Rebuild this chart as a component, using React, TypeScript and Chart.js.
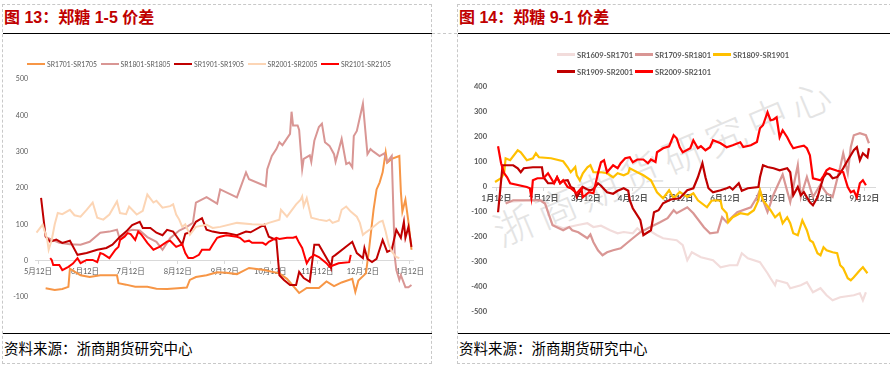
import React, { useEffect, useRef } from 'react';
import { Chart, registerables } from 'chart.js';
Chart.register(...registerables);

// ---------- Left chart: 郑糖 1-5 价差 (x = days after 5月12日) ----------
const leftTickDays = [0, 31, 61, 92, 123, 153, 184, 214, 245];
const leftTickLabels = ['5月12日', '6月12日', '7月12日', '8月12日', '9月12日', '10月12日', '11月12日', '12月12日', '1月12日'];
const leftNames = ['SR1701-SR1705', 'SR1801-SR1805', 'SR1901-SR1905', 'SR2001-SR2005', 'SR2101-SR2105'];
const leftColors = ['#f79646', '#d99694', '#c00000', '#fcd5b5', '#ff0000'];

const L_1701_1705 = [[5,-76],[11,-81],[16,-78],[20,-72],[21,-22],[24,-30],[28,-40],[34,-45],[41,-40],[52,-40],[53,-62],[58,-66],[64,-72],[72,-72],[78,-77],[85,-78],[92,-76],[98,-74],[100,-53],[104,-45],[111,-40],[118,-32],[124,-33],[131,-37],[139,-20],[148,-25],[159,-35],[164,-50],[172,-89],[177,-75],[185,-75],[190,-57],[195,-70],[200,-60],[207,-50],[209,-86],[211,-55],[216,-35],[218,30],[221,140],[223,196],[225,215],[227,243],[229,298],[230,270],[233,280],[238,288],[239,190],[240,135],[242,168],[244,107],[246,30]];
const L_1801_1805 = [[6,63],[14,49],[21,45],[28,44],[34,52],[41,77],[47,80],[52,85],[54,57],[58,80],[62,85],[67,83],[72,65],[78,52],[82,30],[87,62],[93,83],[98,93],[102,104],[104,160],[111,175],[118,157],[120,196],[131,174],[137,243],[139,224],[150,205],[151,252],[154,288],[157,307],[159,326],[161,318],[166,349],[167,410],[168,372],[171,372],[172,360],[174,252],[175,280],[179,290],[180,272],[182,330],[185,368],[187,377],[189,326],[192,316],[195,293],[196,272],[200,335],[203,266],[205,270],[207,257],[208,343],[210,357],[214,432],[217,293],[219,307],[221,300],[225,288],[228,295],[230,271],[233,288],[235,10],[236,-25],[238,-53],[239,-40],[242,-73],[244,-73],[246,-67]];
const L_1901_1905 = [[2,173],[5,66],[8,52],[12,58],[16,49],[21,55],[26,16],[32,21],[39,30],[45,35],[49,44],[54,66],[58,80],[62,98],[67,107],[69,90],[74,90],[78,77],[82,70],[85,85],[89,80],[91,68],[95,44],[97,74],[100,78],[104,107],[108,117],[111,85],[115,80],[120,76],[124,76],[131,70],[137,80],[140,78],[149,99],[152,66],[157,57],[159,-40],[162,-53],[166,-67],[170,-67],[172,-31],[175,-48],[179,-58],[182,44],[185,44],[192,-7],[193,-20],[194,10],[196,16],[207,52],[210,21],[214,7],[215,35],[217,5],[220,-4],[223,5],[227,57],[230,24],[233,30],[236,85],[239,63],[241,107],[242,63],[244,93],[246,38]];
const L_2001_2005 = [[-1,77],[3,99],[6,60],[7,30],[9,57],[11,100],[13,131],[16,128],[21,140],[24,125],[28,121],[32,140],[36,160],[39,118],[43,113],[47,127],[52,163],[54,131],[58,128],[60,149],[65,127],[69,137],[72,182],[76,160],[78,165],[82,146],[87,150],[89,155],[91,127],[93,113],[95,93],[97,100],[100,71],[104,93],[111,99],[115,90],[120,93],[131,104],[141,100],[149,99],[152,104],[159,113],[160,140],[164,121],[170,155],[173,168],[174,177],[175,150],[177,172],[180,118],[185,113],[190,109],[192,113],[194,104],[198,110],[200,140],[203,149],[206,135],[210,121],[212,104],[214,71],[216,78],[220,90],[225,107],[227,110],[229,80],[231,44],[233,25],[236,10],[238,7]];
const L_2101_2105 = [[8,7],[9,2],[10,-12],[14,-12],[16,-26],[20,-17],[23,-8],[26,7],[28,-7],[32,2],[36,2],[39,-4],[41,21],[43,18],[47,7],[51,30],[53,38],[54,57],[57,66],[59,76],[61,73],[64,57],[66,80],[68,72],[72,49],[76,30],[80,38],[85,52],[87,55],[91,38],[95,45],[97,21],[99,7],[102,7],[106,16],[108,30],[113,30],[115,44],[118,63],[120,66],[124,70],[131,66],[133,63],[136,52],[139,55],[141,49],[148,49],[150,44],[152,52],[157,63],[159,60],[164,63],[168,63],[170,66],[172,49],[174,35],[177,-7],[179,7],[182,16],[185,10],[190,-7],[192,-17],[195,-12],[198,-7],[205,-4],[206,16]];

// ---------- Right chart: 郑糖 9-1 价差 (x = days after 1月12日) ----------
const rightTickDays = [0, 31, 59, 90, 120, 151, 181, 212, 243];
const rightTickLabels = ['1月12日', '2月12日', '3月12日', '4月12日', '5月12日', '6月12日', '7月12日', '8月12日', '9月12日'];
const rightNames = ['SR1609-SR1701', 'SR1709-SR1801', 'SR1809-SR1901', 'SR1909-SR2001', 'SR2009-SR2101'];
const rightColors = ['#f2dcdb', '#d99694', '#ffc000', '#c00000', '#ff0000'];

const R_1609_1701 = [[6,-60],[20,-55],[29,-55],[32,-65],[37,-150],[44,-165],[53,-153],[60,-145],[64,-160],[69,-155],[75,-173],[80,-185],[84,-180],[90,-185],[93,-165],[97,-185],[102,-178],[106,-193],[110,-205],[119,-213],[123,-233],[126,-293],[129,-261],[135,-281],[143,-293],[148,-321],[154,-313],[159,-313],[162,-265],[166,-285],[174,-301],[179,-345],[181,-365],[184,-393],[185,-373],[192,-385],[194,-405],[201,-393],[205,-381],[209,-421],[214,-405],[218,-433],[222,-453],[227,-441],[236,-433],[240,-425],[242,-453],[244,-421]];
const R_1709_1801 = [[6,-66],[11,-53],[29,-53],[32,-66],[37,-153],[44,-173],[48,-160],[50,-173],[54,-181],[60,-205],[62,-190],[64,-221],[67,-253],[70,-273],[73,-261],[77,-253],[82,-245],[86,-225],[90,-205],[95,-181],[100,-165],[104,-153],[108,-141],[113,-125],[117,-93],[119,-105],[126,-81],[130,-105],[137,-161],[141,-185],[146,-181],[149,-121],[152,-141],[159,-101],[168,-81],[172,-41],[174,-13],[176,-53],[179,-100],[183,-30],[189,50],[194,-60],[199,87],[201,-40],[205,40],[209,-40],[214,10],[218,-25],[222,-40],[227,79],[229,135],[232,55],[234,159],[236,207],[240,215],[244,207],[246,175]];
const R_1809_1901 = [[-1,20],[3,35],[5,55],[6,115],[9,107],[14,147],[16,139],[20,107],[24,115],[26,135],[28,119],[36,115],[44,103],[47,79],[49,59],[52,80],[53,47],[55,27],[57,55],[60,79],[62,87],[64,59],[69,59],[73,55],[77,39],[80,55],[84,47],[87,55],[88,75],[93,59],[97,47],[102,27],[106,-21],[110,-45],[114,-13],[117,-45],[121,-20],[126,-40],[130,-25],[133,-53],[139,-81],[142,-55],[145,-53],[148,-55],[149,-85],[152,-105],[153,-141],[156,-121],[161,-105],[166,-110],[170,-93],[173,-53],[174,-13],[176,-53],[181,-93],[184,-121],[187,-105],[189,-145],[192,-121],[194,-145],[196,-185],[199,-193],[202,-133],[205,-173],[207,-213],[209,-221],[212,-265],[214,-273],[216,-241],[218,-253],[222,-261],[225,-265],[227,-313],[229,-325],[232,-365],[234,-373],[236,-361],[240,-333],[242,-321],[245,-345]];
const R_1909_2001 = [[1,-101],[4,87],[11,87],[14,75],[16,59],[18,75],[24,79],[30,79],[31,39],[34,15],[38,15],[40,39],[42,15],[44,25],[47,27],[49,0],[51,-5],[53,-41],[55,-21],[57,0],[60,-10],[62,-13],[64,-8],[67,15],[69,5],[73,-21],[77,-27],[80,-15],[84,-5],[87,-15],[88,-53],[90,-85],[95,-133],[97,-193],[102,-173],[104,-101],[107,-93],[110,-65],[115,-50],[121,-45],[126,-13],[130,-5],[133,39],[136,95],[138,39],[140,-5],[143,-21],[148,-13],[152,-5],[154,0],[156,-10],[160,15],[162,-15],[166,-5],[173,0],[174,39],[176,87],[179,80],[183,75],[187,67],[192,75],[194,59],[196,-33],[199,0],[201,-33],[203,-20],[205,-41],[207,-61],[209,-73],[212,-41],[214,0],[216,39],[218,55],[220,50],[222,35],[225,40],[227,55],[229,75],[232,107],[234,127],[236,147],[238,159],[240,107],[242,135],[245,119],[246,155]];
const R_2009_2101 = [[1,163],[3,95],[5,55],[7,39],[9,15],[20,0],[22,-5],[23,-41],[24,27],[27,35],[31,35],[34,55],[36,35],[38,15],[40,39],[42,15],[44,27],[47,0],[49,-5],[53,-25],[56,-5],[57,-41],[61,-21],[64,-25],[67,55],[69,99],[71,107],[73,59],[77,87],[80,75],[82,95],[85,115],[88,119],[90,99],[93,110],[97,110],[100,95],[102,110],[105,100],[106,139],[108,147],[110,155],[114,163],[117,207],[119,195],[121,159],[123,139],[128,155],[130,187],[133,155],[135,163],[138,147],[141,159],[143,187],[148,175],[152,159],[156,167],[161,179],[163,160],[168,167],[172,180],[174,235],[176,247],[179,299],[181,267],[183,270],[185,279],[187,199],[189,227],[192,199],[194,175],[196,155],[199,160],[203,165],[205,155],[207,127],[209,35],[214,27],[216,45],[218,67],[220,75],[225,65],[229,59],[232,0],[234,-21],[236,-15],[238,-41],[240,15],[242,27],[244,7]];

const leftSeries = [L_1701_1705, L_1801_1805, L_1901_1905, L_2001_2005, L_2101_2105];
const rightSeries = [R_1609_1701, R_1709_1801, R_1809_1901, R_1909_2001, R_2009_2101];

type ChartProps = {
  left: number; top: number; width: number; height: number;
  series: number[][][]; names: string[]; colors: string[];
  xMin: number; xMax: number; yMin: number; yMax: number;
  tickDays: number[]; tickLabels: string[];
  padding: { left: number; right: number; top: number; bottom: number };
  yAxisWidth: number; yTickPad: number; xTickPad: number;
  font: { family: string; size: number; weight: string };
  xFont: { family: string; size: number; weight: string };
  lineWidth: number;
};

function SpreadChart(p: ChartProps) {
  const ref = useRef<HTMLCanvasElement>(null);
  useEffect(() => {
    const n = p.series.length;
    const chart = new Chart(ref.current as HTMLCanvasElement, {
      type: 'line',
      data: {
        datasets: p.series.map((s, i) => ({
          label: p.names[i],
          data: s.map(([x, y]) => ({ x, y })),
          borderColor: p.colors[i],
          backgroundColor: p.colors[i],
          borderWidth: p.lineWidth,
          pointRadius: 0,
          tension: 0,
          order: n - i,
        })),
      },
      options: {
        animation: false,
        responsive: false,
        events: [],
        layout: { padding: p.padding },
        plugins: { legend: { display: false }, tooltip: { enabled: false } },
        scales: {
          x: {
            type: 'linear',
            position: { y: 0 } as any,
            min: p.xMin,
            max: p.xMax,
            afterBuildTicks: (scale: any) => {
              scale.ticks = p.tickDays.map((v) => ({ value: v }));
            },
            ticks: {
              autoSkip: false,
              maxRotation: 0,
              padding: p.xTickPad,
              color: '#595959',
              font: p.xFont as any,
              callback: (_v: any, i: number) => p.tickLabels[i],
            },
            grid: { display: true, drawOnChartArea: false, drawTicks: true, tickLength: 3, color: '#d9d9d9' },
            border: { display: true, color: '#d9d9d9', width: 1 },
          },
          y: {
            type: 'linear',
            min: p.yMin,
            max: p.yMax,
            afterFit: (scale: any) => { scale.width = p.yAxisWidth; },
            ticks: { stepSize: 100, padding: p.yTickPad, color: '#595959', font: p.font as any },
            grid: { display: false, drawTicks: false },
            border: { display: false },
          },
        },
      },
    });
    return () => chart.destroy();
  }, []);
  return (
    <canvas
      ref={ref}
      width={p.width}
      height={p.height}
      style={{ position: 'absolute', left: p.left, top: p.top, width: p.width, height: p.height, zIndex: 2 }}
    />
  );
}

function Legend(props: { names: string[]; colors: string[]; left: number; top: number; cols: number; colWidth: number; rowHeight: number; fontSize: number; bold: boolean }) {
  return (
    <div style={{ position: 'absolute', left: props.left, top: props.top, display: 'grid', gridTemplateColumns: `repeat(${props.cols}, ${props.colWidth}px)`, gridAutoRows: `${props.rowHeight}px`, zIndex: 3 }}>
      {props.names.map((nm, i) => (
        <div key={nm} style={{ display: 'flex', alignItems: 'center', whiteSpace: 'nowrap' }}>
          <div style={{ width: 18, height: 2.5, background: props.colors[i], marginRight: 2 }} />
          <span style={{ fontFamily: 'Lato, "Noto Sans"', fontSize: props.fontSize, fontWeight: props.bold ? 700 : 400, color: '#595959' }}>{nm}</span>
        </div>
      ))}
    </div>
  );
}

const titleStyle: React.CSSProperties = {
  position: 'absolute', top: 8, height: 20, lineHeight: '20px', fontSize: 16, fontWeight: 700,
  color: '#c00000', fontFamily: '"Liberation Sans", "Noto Sans CJK SC"', whiteSpace: 'nowrap',
};
const footStyle: React.CSSProperties = {
  position: 'absolute', top: 338, height: 20, lineHeight: '20px', fontSize: 14.5,
  color: '#000', fontFamily: '"Noto Sans CJK SC"', whiteSpace: 'nowrap',
};

export default function App() {
  const dash = '1px dashed #c8c8c8';
  return (
    <div style={{ position: 'absolute', left: 0, top: 0, width: 890, height: 366, background: '#fff', overflow: 'hidden' }}>
      {/* dashed frames */}
      <div style={{ position: 'absolute', left: 2, top: 4, width: 430, height: 360, borderLeft: dash, borderTop: dash, borderRight: dash, borderBottom: dash, boxSizing: 'border-box' }} />
      <div style={{ position: 'absolute', left: 457, top: 4, width: 440, height: 360, borderLeft: dash, borderTop: dash, borderBottom: dash, boxSizing: 'border-box' }} />
      <div style={{ position: 'absolute', left: 432, top: 33, width: 25, height: 0, borderTop: dash }} />

      {/* titles */}
      <div style={{ ...titleStyle, left: 4 }}>图 13：郑糖 1-5 价差</div>
      <div style={{ ...titleStyle, left: 459 }}>图 14：郑糖 9-1 价差</div>
      <div style={{ position: 'absolute', left: 3, top: 33, width: 429, height: 1, background: '#000' }} />
      <div style={{ position: 'absolute', left: 458, top: 33, width: 432, height: 1, background: '#000' }} />
      <div style={{ position: 'absolute', left: 3, top: 333, width: 429, height: 1, background: '#000' }} />
      <div style={{ position: 'absolute', left: 458, top: 333, width: 432, height: 1, background: '#000' }} />

      {/* watermark */}
      <div style={{ position: 'absolute', left: 664, top: 160, transform: 'translate(-50%, -50%) rotate(-23deg)', fontSize: 40, letterSpacing: 6, color: '#e4e4e4', fontFamily: '"Noto Sans CJK SC"', fontWeight: 300, whiteSpace: 'nowrap', zIndex: 1 }}>浙商期货研究中心</div>

      <SpreadChart
        left={3} top={34} width={429} height={299}
        series={leftSeries} names={leftNames} colors={leftColors}
        xMin={-2} xMax={247} yMin={-100} yMax={500}
        tickDays={leftTickDays} tickLabels={leftTickLabels}
        padding={{ left: 0, right: 19, top: 45, bottom: 36 }}
        yAxisWidth={32} yTickPad={7} xTickPad={3}
        font={{ family: 'Lato, "Noto Sans CJK SC"', size: 7, weight: 'normal' }}
        xFont={{ family: 'Lato, "Noto Sans CJK SC"', size: 7.5, weight: 'normal' }}
        lineWidth={2}
      />
      <SpreadChart
        left={458} top={34} width={432} height={299}
        series={rightSeries} names={rightNames} colors={rightColors}
        xMin={-3} xMax={250} yMin={-500} yMax={400}
        tickDays={rightTickDays} tickLabels={rightTickLabels}
        padding={{ left: 0, right: 15, top: 53, bottom: 21 }}
        yAxisWidth={34} yTickPad={5} xTickPad={4}
        font={{ family: 'Lato, "Noto Sans CJK SC"', size: 7.5, weight: 'bold' }}
        xFont={{ family: 'Lato, "Noto Sans CJK SC"', size: 8, weight: 'bold' }}
        lineWidth={2.2}
      />

      <Legend names={leftNames} colors={leftColors} left={27} top={58} cols={5} colWidth={73.5} rowHeight={12} fontSize={6.8} bold={false} />
      <Legend names={rightNames} colors={rightColors} left={557} top={46} cols={3} colWidth={78} rowHeight={17} fontSize={7.6} bold={true} />

      <div style={{ ...footStyle, left: 4 }}>资料来源：浙商期货研究中心</div>
      <div style={{ ...footStyle, left: 459 }}>资料来源：浙商期货研究中心</div>
    </div>
  );
}
